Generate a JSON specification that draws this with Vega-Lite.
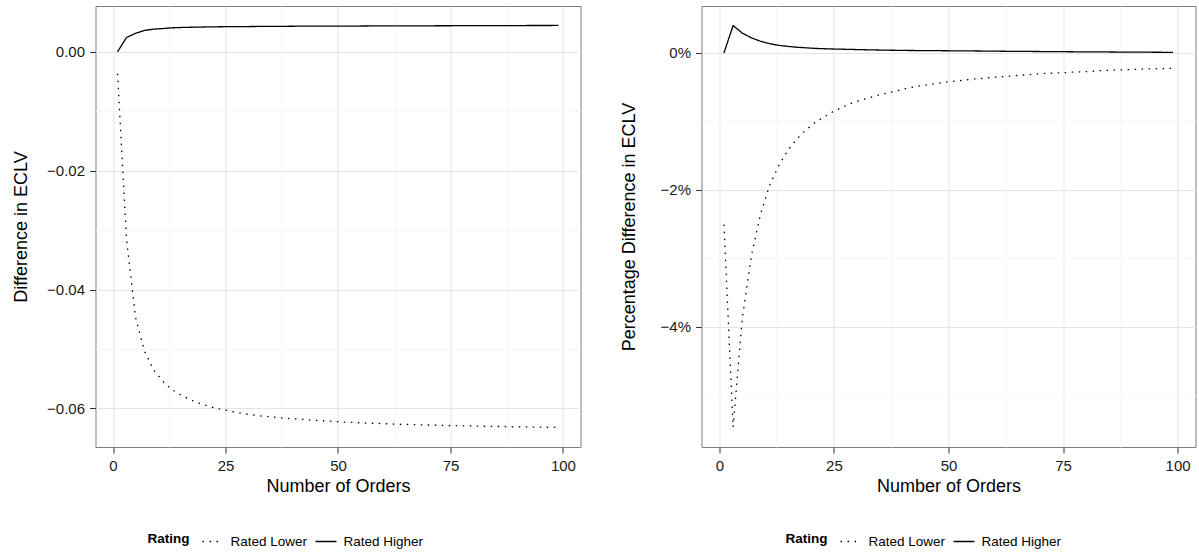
{
  "$schema": "https://vega.github.io/schema/vega-lite/v6.json",
  "padding": {"left": 11.5, "top": 5, "right": 0, "bottom": 0},
  "spacing": 38,
  "config": {
    "font": "Liberation Sans",
    "view": {"stroke": "#7f7f7f", "strokeWidth": 1},
    "axis": {
      "domain": false,
      "tickSize": 6,
      "tickWidth": 1,
      "labelFontSize": 15,
      "labelColor": "#1a1a1a",
      "labelPadding": 5,
      "titleFontSize": 18,
      "titleFontWeight": "normal",
      "titleColor": "#000000",
      "gridWidth": 1
    },
    "legend": {
      "orient": "none",
      "direction": "horizontal",
      "titleOrient": "left",
      "titleAnchor": "middle",
      "titleBaseline": "middle",
      "titleFontSize": 13.5,
      "titleFontWeight": "bold",
      "titleColor": "#000000",
      "titlePadding": 12,
      "labelFontSize": 13.5,
      "labelColor": "#000000",
      "labelOffset": 6,
      "symbolType": "stroke",
      "symbolSize": 440,
      "symbolStrokeWidth": 1.3,
      "symbolStrokeColor": "#000000",
      "columnPadding": 5
    }
  },
  "datasets": {
    "abs": [
      {"orders": 1, "rating": "Rated Lower", "diff": -0.0037},
      {"orders": 3, "rating": "Rated Lower", "diff": -0.0316},
      {"orders": 5, "rating": "Rated Lower", "diff": -0.0447},
      {"orders": 7, "rating": "Rated Lower", "diff": -0.0504},
      {"orders": 9, "rating": "Rated Lower", "diff": -0.0535},
      {"orders": 11, "rating": "Rated Lower", "diff": -0.0554},
      {"orders": 13, "rating": "Rated Lower", "diff": -0.0568},
      {"orders": 15, "rating": "Rated Lower", "diff": -0.0577},
      {"orders": 17, "rating": "Rated Lower", "diff": -0.0585},
      {"orders": 19, "rating": "Rated Lower", "diff": -0.0591},
      {"orders": 21, "rating": "Rated Lower", "diff": -0.0596},
      {"orders": 23, "rating": "Rated Lower", "diff": -0.06},
      {"orders": 25, "rating": "Rated Lower", "diff": -0.0603},
      {"orders": 27, "rating": "Rated Lower", "diff": -0.0606},
      {"orders": 29, "rating": "Rated Lower", "diff": -0.0609},
      {"orders": 31, "rating": "Rated Lower", "diff": -0.0611},
      {"orders": 33, "rating": "Rated Lower", "diff": -0.0613},
      {"orders": 35, "rating": "Rated Lower", "diff": -0.0614},
      {"orders": 37, "rating": "Rated Lower", "diff": -0.0616},
      {"orders": 39, "rating": "Rated Lower", "diff": -0.0617},
      {"orders": 41, "rating": "Rated Lower", "diff": -0.0618},
      {"orders": 43, "rating": "Rated Lower", "diff": -0.0619},
      {"orders": 45, "rating": "Rated Lower", "diff": -0.062},
      {"orders": 47, "rating": "Rated Lower", "diff": -0.0621},
      {"orders": 49, "rating": "Rated Lower", "diff": -0.0622},
      {"orders": 51, "rating": "Rated Lower", "diff": -0.06229},
      {"orders": 53, "rating": "Rated Lower", "diff": -0.06236},
      {"orders": 55, "rating": "Rated Lower", "diff": -0.06243},
      {"orders": 57, "rating": "Rated Lower", "diff": -0.06249},
      {"orders": 59, "rating": "Rated Lower", "diff": -0.06254},
      {"orders": 61, "rating": "Rated Lower", "diff": -0.0626},
      {"orders": 63, "rating": "Rated Lower", "diff": -0.06265},
      {"orders": 65, "rating": "Rated Lower", "diff": -0.0627},
      {"orders": 67, "rating": "Rated Lower", "diff": -0.06274},
      {"orders": 69, "rating": "Rated Lower", "diff": -0.06278},
      {"orders": 71, "rating": "Rated Lower", "diff": -0.06282},
      {"orders": 73, "rating": "Rated Lower", "diff": -0.06286},
      {"orders": 75, "rating": "Rated Lower", "diff": -0.06289},
      {"orders": 77, "rating": "Rated Lower", "diff": -0.06293},
      {"orders": 79, "rating": "Rated Lower", "diff": -0.06296},
      {"orders": 81, "rating": "Rated Lower", "diff": -0.06299},
      {"orders": 83, "rating": "Rated Lower", "diff": -0.06302},
      {"orders": 85, "rating": "Rated Lower", "diff": -0.06304},
      {"orders": 87, "rating": "Rated Lower", "diff": -0.06307},
      {"orders": 89, "rating": "Rated Lower", "diff": -0.0631},
      {"orders": 91, "rating": "Rated Lower", "diff": -0.06312},
      {"orders": 93, "rating": "Rated Lower", "diff": -0.06314},
      {"orders": 95, "rating": "Rated Lower", "diff": -0.06316},
      {"orders": 97, "rating": "Rated Lower", "diff": -0.06319},
      {"orders": 99, "rating": "Rated Lower", "diff": -0.06321},
      {"orders": 1, "rating": "Rated Higher", "diff": 0},
      {"orders": 3, "rating": "Rated Higher", "diff": 0.0024},
      {"orders": 5, "rating": "Rated Higher", "diff": 0.0031},
      {"orders": 7, "rating": "Rated Higher", "diff": 0.0036},
      {"orders": 9, "rating": "Rated Higher", "diff": 0.0038},
      {"orders": 11, "rating": "Rated Higher", "diff": 0.0039},
      {"orders": 13, "rating": "Rated Higher", "diff": 0.00403},
      {"orders": 15, "rating": "Rated Higher", "diff": 0.00408},
      {"orders": 17, "rating": "Rated Higher", "diff": 0.00412},
      {"orders": 19, "rating": "Rated Higher", "diff": 0.00415},
      {"orders": 21, "rating": "Rated Higher", "diff": 0.00418},
      {"orders": 23, "rating": "Rated Higher", "diff": 0.0042},
      {"orders": 25, "rating": "Rated Higher", "diff": 0.00422},
      {"orders": 27, "rating": "Rated Higher", "diff": 0.00423},
      {"orders": 29, "rating": "Rated Higher", "diff": 0.00424},
      {"orders": 31, "rating": "Rated Higher", "diff": 0.00425},
      {"orders": 33, "rating": "Rated Higher", "diff": 0.00426},
      {"orders": 35, "rating": "Rated Higher", "diff": 0.00427},
      {"orders": 37, "rating": "Rated Higher", "diff": 0.00428},
      {"orders": 39, "rating": "Rated Higher", "diff": 0.00429},
      {"orders": 41, "rating": "Rated Higher", "diff": 0.0043},
      {"orders": 43, "rating": "Rated Higher", "diff": 0.0043},
      {"orders": 45, "rating": "Rated Higher", "diff": 0.00431},
      {"orders": 47, "rating": "Rated Higher", "diff": 0.00431},
      {"orders": 49, "rating": "Rated Higher", "diff": 0.00432},
      {"orders": 51, "rating": "Rated Higher", "diff": 0.00432},
      {"orders": 53, "rating": "Rated Higher", "diff": 0.00433},
      {"orders": 55, "rating": "Rated Higher", "diff": 0.00433},
      {"orders": 57, "rating": "Rated Higher", "diff": 0.00434},
      {"orders": 59, "rating": "Rated Higher", "diff": 0.00434},
      {"orders": 61, "rating": "Rated Higher", "diff": 0.00435},
      {"orders": 63, "rating": "Rated Higher", "diff": 0.00435},
      {"orders": 65, "rating": "Rated Higher", "diff": 0.00436},
      {"orders": 67, "rating": "Rated Higher", "diff": 0.00436},
      {"orders": 69, "rating": "Rated Higher", "diff": 0.00437},
      {"orders": 71, "rating": "Rated Higher", "diff": 0.00437},
      {"orders": 73, "rating": "Rated Higher", "diff": 0.00438},
      {"orders": 75, "rating": "Rated Higher", "diff": 0.00438},
      {"orders": 77, "rating": "Rated Higher", "diff": 0.00439},
      {"orders": 79, "rating": "Rated Higher", "diff": 0.00439},
      {"orders": 81, "rating": "Rated Higher", "diff": 0.0044},
      {"orders": 83, "rating": "Rated Higher", "diff": 0.0044},
      {"orders": 85, "rating": "Rated Higher", "diff": 0.0044},
      {"orders": 87, "rating": "Rated Higher", "diff": 0.00441},
      {"orders": 89, "rating": "Rated Higher", "diff": 0.00441},
      {"orders": 91, "rating": "Rated Higher", "diff": 0.00441},
      {"orders": 93, "rating": "Rated Higher", "diff": 0.00442},
      {"orders": 95, "rating": "Rated Higher", "diff": 0.00442},
      {"orders": 97, "rating": "Rated Higher", "diff": 0.00442},
      {"orders": 99, "rating": "Rated Higher", "diff": 0.00443}
    ],
    "pct": [
      {"orders": 1, "rating": "Rated Lower", "diff": -0.0251},
      {"orders": 3, "rating": "Rated Lower", "diff": -0.0547},
      {"orders": 5, "rating": "Rated Lower", "diff": -0.0388},
      {"orders": 7, "rating": "Rated Lower", "diff": -0.0296},
      {"orders": 9, "rating": "Rated Lower", "diff": -0.0235},
      {"orders": 11, "rating": "Rated Lower", "diff": -0.0193},
      {"orders": 13, "rating": "Rated Lower", "diff": -0.0164},
      {"orders": 15, "rating": "Rated Lower", "diff": -0.0142},
      {"orders": 17, "rating": "Rated Lower", "diff": -0.0125},
      {"orders": 19, "rating": "Rated Lower", "diff": -0.0112},
      {"orders": 21, "rating": "Rated Lower", "diff": -0.0101},
      {"orders": 23, "rating": "Rated Lower", "diff": -0.0093},
      {"orders": 25, "rating": "Rated Lower", "diff": -0.0085},
      {"orders": 27, "rating": "Rated Lower", "diff": -0.0079},
      {"orders": 29, "rating": "Rated Lower", "diff": -0.0073},
      {"orders": 31, "rating": "Rated Lower", "diff": -0.0069},
      {"orders": 33, "rating": "Rated Lower", "diff": -0.0065},
      {"orders": 35, "rating": "Rated Lower", "diff": -0.0061},
      {"orders": 37, "rating": "Rated Lower", "diff": -0.0058},
      {"orders": 39, "rating": "Rated Lower", "diff": -0.0055},
      {"orders": 41, "rating": "Rated Lower", "diff": -0.00515},
      {"orders": 43, "rating": "Rated Lower", "diff": -0.0049},
      {"orders": 45, "rating": "Rated Lower", "diff": -0.0047},
      {"orders": 47, "rating": "Rated Lower", "diff": -0.0045},
      {"orders": 49, "rating": "Rated Lower", "diff": -0.0043},
      {"orders": 51, "rating": "Rated Lower", "diff": -0.00415},
      {"orders": 53, "rating": "Rated Lower", "diff": -0.004},
      {"orders": 55, "rating": "Rated Lower", "diff": -0.00385},
      {"orders": 57, "rating": "Rated Lower", "diff": -0.00375},
      {"orders": 59, "rating": "Rated Lower", "diff": -0.0036},
      {"orders": 61, "rating": "Rated Lower", "diff": -0.0035},
      {"orders": 63, "rating": "Rated Lower", "diff": -0.0034},
      {"orders": 65, "rating": "Rated Lower", "diff": -0.0033},
      {"orders": 67, "rating": "Rated Lower", "diff": -0.0032},
      {"orders": 69, "rating": "Rated Lower", "diff": -0.0031},
      {"orders": 71, "rating": "Rated Lower", "diff": -0.003},
      {"orders": 73, "rating": "Rated Lower", "diff": -0.00295},
      {"orders": 75, "rating": "Rated Lower", "diff": -0.0029},
      {"orders": 77, "rating": "Rated Lower", "diff": -0.0028},
      {"orders": 79, "rating": "Rated Lower", "diff": -0.00275},
      {"orders": 81, "rating": "Rated Lower", "diff": -0.0027},
      {"orders": 83, "rating": "Rated Lower", "diff": -0.0026},
      {"orders": 85, "rating": "Rated Lower", "diff": -0.00255},
      {"orders": 87, "rating": "Rated Lower", "diff": -0.0025},
      {"orders": 89, "rating": "Rated Lower", "diff": -0.00245},
      {"orders": 91, "rating": "Rated Lower", "diff": -0.0024},
      {"orders": 93, "rating": "Rated Lower", "diff": -0.00235},
      {"orders": 95, "rating": "Rated Lower", "diff": -0.0023},
      {"orders": 97, "rating": "Rated Lower", "diff": -0.00228},
      {"orders": 99, "rating": "Rated Lower", "diff": -0.00225},
      {"orders": 1, "rating": "Rated Higher", "diff": 0},
      {"orders": 3, "rating": "Rated Higher", "diff": 0.004},
      {"orders": 5, "rating": "Rated Higher", "diff": 0.0029},
      {"orders": 7, "rating": "Rated Higher", "diff": 0.0022},
      {"orders": 9, "rating": "Rated Higher", "diff": 0.0017},
      {"orders": 11, "rating": "Rated Higher", "diff": 0.00135},
      {"orders": 13, "rating": "Rated Higher", "diff": 0.0011},
      {"orders": 15, "rating": "Rated Higher", "diff": 0.00095},
      {"orders": 17, "rating": "Rated Higher", "diff": 0.00083},
      {"orders": 19, "rating": "Rated Higher", "diff": 0.00074},
      {"orders": 21, "rating": "Rated Higher", "diff": 0.00066},
      {"orders": 23, "rating": "Rated Higher", "diff": 0.00061},
      {"orders": 25, "rating": "Rated Higher", "diff": 0.00057},
      {"orders": 27, "rating": "Rated Higher", "diff": 0.00054},
      {"orders": 29, "rating": "Rated Higher", "diff": 0.00051},
      {"orders": 31, "rating": "Rated Higher", "diff": 0.00048},
      {"orders": 33, "rating": "Rated Higher", "diff": 0.00045},
      {"orders": 35, "rating": "Rated Higher", "diff": 0.00042},
      {"orders": 37, "rating": "Rated Higher", "diff": 0.0004},
      {"orders": 39, "rating": "Rated Higher", "diff": 0.00038},
      {"orders": 41, "rating": "Rated Higher", "diff": 0.00036},
      {"orders": 43, "rating": "Rated Higher", "diff": 0.00035},
      {"orders": 45, "rating": "Rated Higher", "diff": 0.00034},
      {"orders": 47, "rating": "Rated Higher", "diff": 0.00033},
      {"orders": 49, "rating": "Rated Higher", "diff": 0.00032},
      {"orders": 51, "rating": "Rated Higher", "diff": 0.00031},
      {"orders": 53, "rating": "Rated Higher", "diff": 0.0003},
      {"orders": 55, "rating": "Rated Higher", "diff": 0.00029},
      {"orders": 57, "rating": "Rated Higher", "diff": 0.00028},
      {"orders": 59, "rating": "Rated Higher", "diff": 0.00026},
      {"orders": 61, "rating": "Rated Higher", "diff": 0.00025},
      {"orders": 63, "rating": "Rated Higher", "diff": 0.00024},
      {"orders": 65, "rating": "Rated Higher", "diff": 0.00023},
      {"orders": 67, "rating": "Rated Higher", "diff": 0.00022},
      {"orders": 69, "rating": "Rated Higher", "diff": 0.00021},
      {"orders": 71, "rating": "Rated Higher", "diff": 0.0002},
      {"orders": 73, "rating": "Rated Higher", "diff": 0.00019},
      {"orders": 75, "rating": "Rated Higher", "diff": 0.00018},
      {"orders": 77, "rating": "Rated Higher", "diff": 0.00017},
      {"orders": 79, "rating": "Rated Higher", "diff": 0.000165},
      {"orders": 81, "rating": "Rated Higher", "diff": 0.00016},
      {"orders": 83, "rating": "Rated Higher", "diff": 0.00015},
      {"orders": 85, "rating": "Rated Higher", "diff": 0.00014},
      {"orders": 87, "rating": "Rated Higher", "diff": 0.00013},
      {"orders": 89, "rating": "Rated Higher", "diff": 0.00012},
      {"orders": 91, "rating": "Rated Higher", "diff": 0.00012},
      {"orders": 93, "rating": "Rated Higher", "diff": 0.00011},
      {"orders": 95, "rating": "Rated Higher", "diff": 0.0001},
      {"orders": 97, "rating": "Rated Higher", "diff": 0.000095},
      {"orders": 99, "rating": "Rated Higher", "diff": 0.00009}
    ]
  },
  "resolve": {"scale": {"strokeDash": "independent", "y": "independent"}, "legend": {"strokeDash": "independent"}},
  "hconcat": [
    {
      "width": 485,
      "height": 441,
      "data": {"name": "abs"},
      "mark": {"type": "line", "color": "#000000", "strokeWidth": 1.3, "strokeCap": "butt"},
      "encoding": {
        "x": {
          "field": "orders", "type": "quantitative",
          "scale": {"domain": [-3.9, 103.9], "nice": false, "zero": false},
          "axis": {
            "title": "Number of Orders",
            "values": [0, 12.5, 25, 37.5, 50, 62.5, 75, 87.5, 100],
            "labelExpr": "datum.value % 25 === 0 ? datum.label : ''",
            "labelPadding": 5,
            "titlePadding": 4,
            "tickColor": {"condition": {"test": "datum.value % 25 === 0", "value": "#333333"}, "value": "rgba(0,0,0,0)"},
            "gridColor": {"condition": {"test": "datum.value % 25 === 0", "value": "#e5e5e5"}, "value": "#f6f6f6"}
          }
        },
        "y": {
          "field": "diff", "type": "quantitative",
          "scale": {"domain": [-0.0665, 0.0077], "nice": false, "zero": false},
          "axis": {
            "title": "Difference in ECLV",
            "values": [0, -0.01, -0.02, -0.03, -0.04, -0.05, -0.06],
            "format": ".2f",
            "labelExpr": "round(datum.value * 100) % 2 === 0 ? datum.label : ''",
            "titlePadding": 16,
            "tickColor": {"condition": {"test": "round(datum.value * 100) % 2 === 0", "value": "#333333"}, "value": "rgba(0,0,0,0)"},
            "gridColor": {"condition": {"test": "round(datum.value * 100) % 2 === 0", "value": "#e5e5e5"}, "value": "#f6f6f6"}
          }
        },
        "strokeDash": {
          "field": "rating", "type": "nominal",
          "scale": {"domain": ["Rated Lower", "Rated Higher"], "range": [[1.5, 5.5], [1, 0]]},
          "legend": {"title": "Rating", "legendX": 52, "legendY": 524}
        },
        "order": {"field": "orders", "type": "quantitative"}
      }
    },
    {
      "width": 494,
      "height": 441,
      "data": {"name": "pct"},
      "mark": {"type": "line", "color": "#000000", "strokeWidth": 1.3, "strokeCap": "butt"},
      "encoding": {
        "x": {
          "field": "orders", "type": "quantitative",
          "scale": {"domain": [-3.9, 103.9], "nice": false, "zero": false},
          "axis": {
            "title": "Number of Orders",
            "values": [0, 12.5, 25, 37.5, 50, 62.5, 75, 87.5, 100],
            "labelExpr": "datum.value % 25 === 0 ? datum.label : ''",
            "labelPadding": 5,
            "titlePadding": 4,
            "tickColor": {"condition": {"test": "datum.value % 25 === 0", "value": "#333333"}, "value": "rgba(0,0,0,0)"},
            "gridColor": {"condition": {"test": "datum.value % 25 === 0", "value": "#e5e5e5"}, "value": "#f6f6f6"}
          }
        },
        "y": {
          "field": "diff", "type": "quantitative",
          "scale": {"domain": [-0.0576, 0.00686], "nice": false, "zero": false},
          "axis": {
            "title": "Percentage Difference in ECLV",
            "values": [0, -0.01, -0.02, -0.03, -0.04, -0.05],
            "format": ".0%",
            "labelExpr": "round(datum.value * 100) % 2 === 0 ? datum.label : ''",
            "titlePadding": 22,
            "tickColor": {"condition": {"test": "round(datum.value * 100) % 2 === 0", "value": "#333333"}, "value": "rgba(0,0,0,0)"},
            "gridColor": {"condition": {"test": "round(datum.value * 100) % 2 === 0", "value": "#e5e5e5"}, "value": "#f6f6f6"}
          }
        },
        "strokeDash": {
          "field": "rating", "type": "nominal",
          "scale": {"domain": ["Rated Lower", "Rated Higher"], "range": [[1.5, 5.5], [1, 0]]},
          "legend": {"title": "Rating", "legendX": 84, "legendY": 524}
        },
        "order": {"field": "orders", "type": "quantitative"}
      }
    }
  ]
}
